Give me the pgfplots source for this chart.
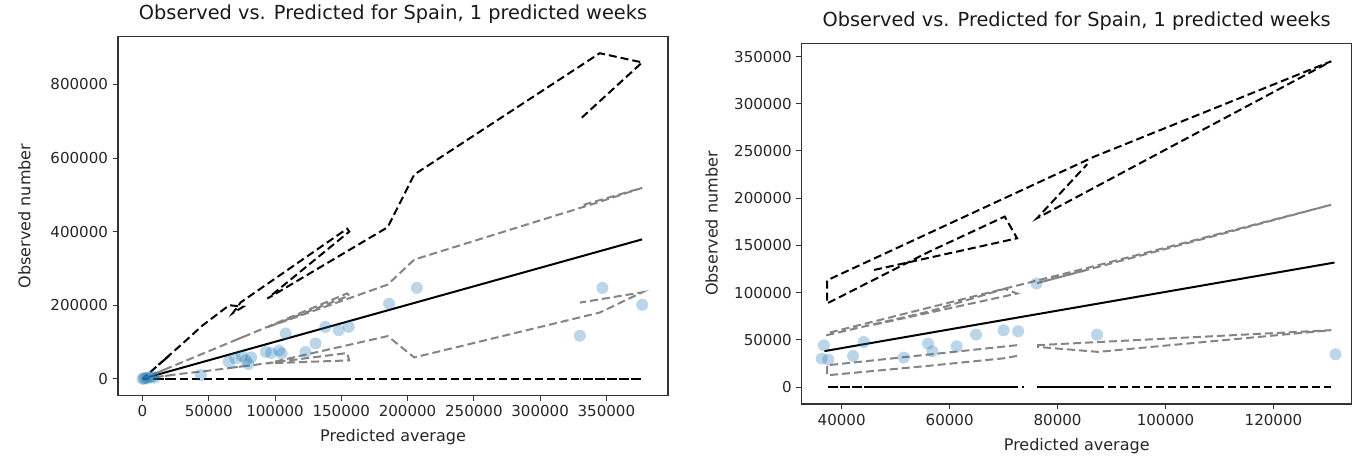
\documentclass[border=0pt]{standalone}
\usepackage{fontspec}
\setmainfont{DejaVu Sans}
\usepackage{pgfplots}
\pgfplotsset{compat=1.18}

\definecolor{ptblue}{RGB}{31,119,180}
\definecolor{bandgray}{RGB}{132,132,132}

\pgfplotsset{
  spainax/.style={
    scale only axis, clip=true, unbounded coords=jump,
    axis line style={line width=0.8pt, black!80},
    tick align=outside, xtick pos=bottom, ytick pos=left,
    major tick length=4pt, tick style={black!80, line width=0.7pt},
    scaled ticks=false,
    /pgf/number format/assume math mode=true,
    /pgf/number format/fixed, /pgf/number format/1000 sep={},
    tick label style={font=\fontsize{11.3}{12}\selectfont, text=black!85},
    label style={font=\fontsize{12}{13}\selectfont, text=black!85},
    title style={font=\fontsize{14.5}{16}\selectfont, text=black!90,
      at={(axis description cs:0.5,1)}, anchor=base, yshift=6.5pt},
    xlabel style={at={(axis description cs:0.5,0)}, anchor=base, yshift=-35pt},
    title={Observed vs. Predicted for Spain, 1 predicted weeks},
    xlabel={Predicted average}, ylabel={Observed number},
  },
  obs/.style={only marks, mark=*, mark size=4.5pt, ptblue,
    mark options={draw opacity=0, fill=ptblue, fill opacity=0.3}},
  hi/.style={black, line width=1.5pt, dash pattern=on 6pt off 3pt},
  mid/.style={bandgray, line width=1.5pt, dash pattern=on 6pt off 3pt},
  fit/.style={black, line width=1.5pt},
}

\begin{document}
\begin{tikzpicture}
\useasboundingbox (0,0) rectangle (1021.5pt,342pt);

% left: all predictions
\begin{axis}[spainax, at={(88.5pt,314.5pt)}, anchor=north west,
  width=412.5pt, height=269pt,
  ylabel style={at={(axis description cs:-0.17,0.5)}, anchor=center},
  xmin=-18500, xmax=396500, ymin=-45000, ymax=930000,
  xtick={0,50000,100000,150000,200000,250000,300000,350000},
  ytick={0,200000,400000,600000,800000}]
\addplot[obs] coordinates {(0,0) (1000,500) (2000,2500) (3500,1000) (5000,4000) (7000,6000) (9000,3000)
  (44000,10000) (65000,46000) (70000,55000) (75000,62000) (78000,50000) (80000,40000) (82000,58000)
  (93000,73000) (97000,70000) (103000,77000) (105000,69000) (108000,123000) (123000,73000)
  (130600,96000) (138000,141000) (148000,132000) (155600,141000) (186000,204000) (207000,247000)
  (330000,117000) (347000,247000) (377000,201000)};
\addplot[fit] coordinates {(0,0) (377000,379000)};
\addplot[hi] coordinates {(0,0) (1000,3000) (500,1500) (3000,9000) (8000,25000) (20000,62000) (12000,38000)
  (30000,95000) (45300,145000) (65400,200000) (76000,196000) (68000,178000) (74200,208000)
  (154400,408000) (156000,400000) (94200,218000) (185000,412000) (205000,555000)
  (345000,885000) (377000,860000) (330000,705000)};
\addplot[mid] coordinates {(0,0) (1000,1500) (500,800) (3000,4500) (8000,12000) (20000,30000) (12000,18000)
  (30000,45000) (45300,68000) (65400,98000) (76000,114000) (68000,102000) (74200,111000)
  (154400,232000) (156000,226000) (94200,140000) (185000,256000) (205000,324000)
  (345000,481000) (377000,519000) (330000,470000)};
\addplot[mid] coordinates {(0,0) (1000,400) (500,200) (3000,1300) (8000,3500) (20000,9000) (12000,5500)
  (30000,14000) (45300,20000) (65400,29000) (76000,34000) (68000,31000) (74200,33000)
  (154400,70000) (156000,50000) (94200,42000) (185000,116000) (205000,58000)
  (345000,180000) (377000,235000) (330000,207000)};
\addplot[hi] coordinates {(0,0) (1000,0) (500,0) (3000,0) (8000,0) (20000,0) (12000,0)
  (30000,0) (45300,0) (65400,0) (76000,0) (68000,0) (74200,0)
  (154400,0) (156000,0) (94200,0) (185000,0) (205000,0)
  (345000,0) (377000,0) (330000,0)};
\end{axis}

% right: predictions above 35000
\begin{axis}[spainax, at={(601.3pt,309.5pt)}, anchor=north west,
  width=412.5pt, height=270.5pt,
  ylabel style={at={(axis description cs:-0.164,0.5)}, anchor=center},
  xmin=32600, xmax=134500, ymin=-18000, ymax=364000,
  xtick={40000,60000,80000,100000,120000},
  ytick={0,50000,100000,150000,200000,250000,300000,350000}]
\addplot[obs] coordinates {(36700,44200) (36300,30100) (37500,29000) (42100,32900) (44100,47700)
  (51500,31100) (56000,46000) (56800,37800) (61300,43100) (64900,55500) (70000,60100)
  (72700,59100) (76100,109600) (87300,55500) (131500,34700)};
\addplot[fit] coordinates {(36800,38000) (131300,131800)};
\addplot[hi] coordinates {(46000,124000) (72500,157500) (70200,180500) (56200,143300) (37300,88500)
  (37300,113000) (86800,244000) (130700,345000) (76200,178800) (85500,236000)};
\addplot[mid] coordinates {(46000,66000) (72500,99000) (70200,104000) (56200,80000) (37300,55000)
  (37300,57000) (86800,128000) (130700,193000) (76200,110000) (85500,124000)};
\addplot[mid] coordinates {(72500,44300) (37300,23000) (37300,12400) (56200,22500) (70200,30500)
  (72500,33000) (74000,nan) (76200,44300) (130700,60200) (87500,37200) (76200,42500)};
\addplot[hi] coordinates {(46000,0) (72500,0) (70200,0) (56200,0) (37300,0) (73800,0)
  (75000,nan) (76200,0) (88500,0) (76200,0) (88500,0) (130700,0)};
\end{axis}
\end{tikzpicture}
\end{document}
